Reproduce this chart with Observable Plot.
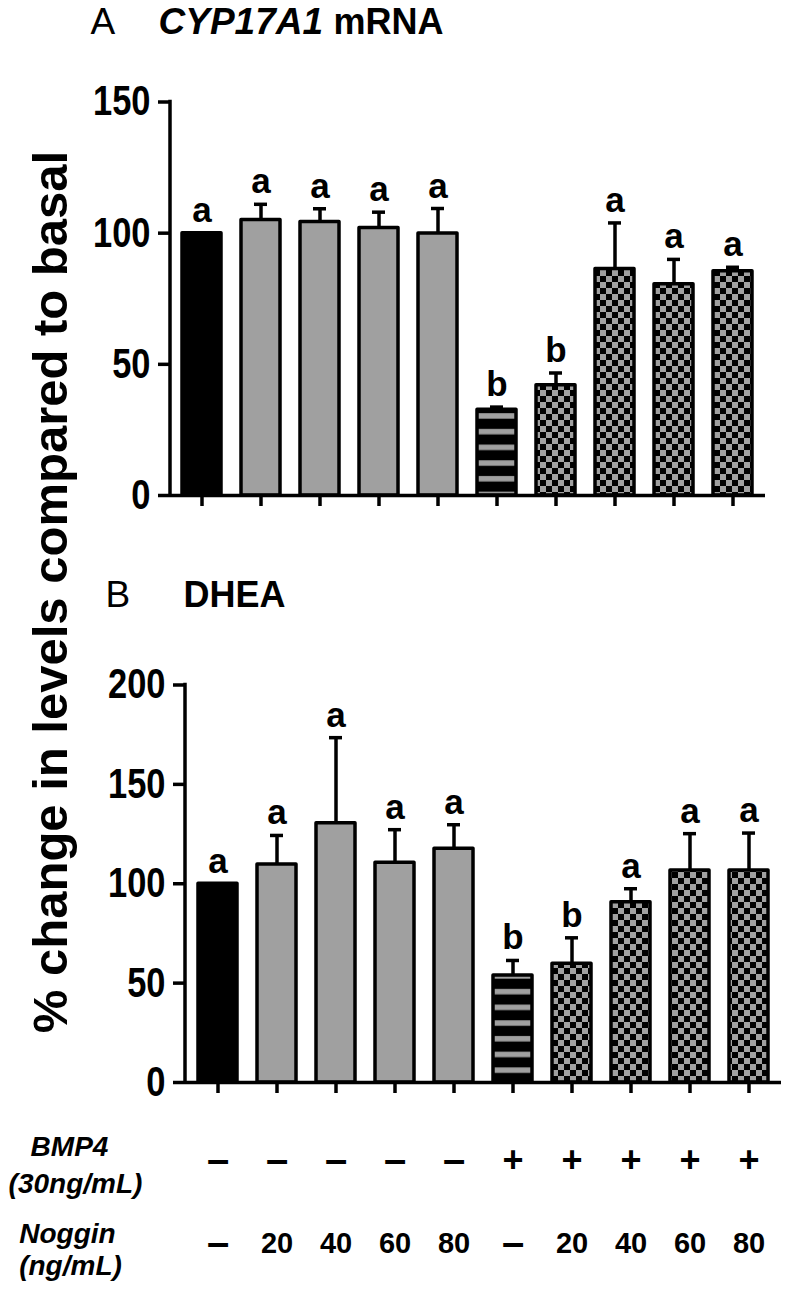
<!DOCTYPE html>
<html><head><meta charset="utf-8">
<script src="https://cdn.jsdelivr.net/npm/d3@7"></script>
<script src="https://cdn.jsdelivr.net/npm/@observablehq/plot@0.6"></script>
<style>
body{margin:0;background:#fff;}
#wrap{position:relative;width:788px;height:1291px;overflow:hidden;background:#fff;font-family:"Liberation Sans",Arial,sans-serif;}
.panel{position:absolute;left:0;}
#ytitle{position:absolute;left:50px;top:592px;transform:translate(-50%,-50%) rotate(-90deg);font-weight:bold;font-size:49px;line-height:49px;white-space:nowrap;color:#000;}
</style></head><body>
<div id="wrap">
  <div id="panelA" class="panel" style="top:0"></div>
  <div id="panelB" class="panel" style="top:560px"></div>
  <div id="ytitle">% change in levels compared to basal</div>
</div>
<script>
// ---- data ----
const groups = ["G1","G2","G3","G4","G5","G6","G7","G8","G9","G10"];
const kinds = ["control","noggin","noggin","noggin","noggin","bmp4","combo","combo","combo","combo"];
const bmp4Labels = ["–","–","–","–","–","+","+","+","+","+"];
const nogginLabels = ["–","20","40","60","80","–","20","40","60","80"];
const cypMean = [100, 105, 104.3, 102, 99.9, 32.7, 42, 86.3, 80.5, 85.5];
const cypSem = [0, 6, 5, 6, 9.5, 1, 4.7, 17.6, 9.5, 1.5];
const cypLetters = ["a","a","a","a","a","b","b","a","a","a"];
const dheaMean = [100, 109.7, 130.5, 110.6, 117.6, 53.8, 59.7, 90.7, 106.7, 106.7];
const dheaSem = [0, 14.6, 43, 16.6, 12.1, 7.6, 13.1, 6.8, 18.5, 18.8];
const dheaLetters = ["a","a","a","a","a","b","b","a","a","a"];
const yTicksA = [0, 50, 100, 150];
const yTicksB = [0, 50, 100, 150, 200];

const FONT = "Liberation Sans, Arial, sans-serif";
const GREY = "#a0a0a0";

function rows(mean, sem, letters) {
  return groups.map((g, i) => ({group: g, kind: kinds[i], mean: mean[i], sem: sem[i], letter: letters[i],
    bmp4: bmp4Labels[i], noggin: nogginLabels[i]}));
}

function addPatterns(svg, sfx) {
  const defs = d3.select(svg).insert("defs", ":first-child");
  const s = defs.append("pattern").attr("id", "stripes" + sfx).attr("patternUnits", "userSpaceOnUse")
    .attr("width", 10).attr("height", 15.7);
  s.append("rect").attr("width", 10).attr("height", 15.7).attr("fill", "#000");
  s.append("rect").attr("y", 5).attr("width", 10).attr("height", 5.5).attr("fill", GREY);
  const c = defs.append("pattern").attr("id", "check" + sfx).attr("patternUnits", "userSpaceOnUse")
    .attr("width", 12).attr("height", 12);
  c.append("rect").attr("width", 12).attr("height", 12).attr("fill", GREY);
  c.append("rect").attr("width", 6).attr("height", 6).attr("fill", "#000");
  c.append("rect").attr("x", 6).attr("y", 6).attr("width", 6).attr("height", 6).attr("fill", "#000");
}

function yAxisLine(ymax) {
  return (index, scales, values, dims) => {
    const g = d3.create("svg:g");
    g.append("line").attr("x1", dims.marginLeft).attr("x2", dims.marginLeft)
      .attr("y1", scales.y(0)).attr("y2", scales.y(ymax))
      .attr("stroke", "#000").attr("stroke-width", 3.5).attr("stroke-linecap", "square");
    return g.node();
  };
}

function panel(data, opts) {
  const {sfx, ymax, yTicks, height, marginTop, marginBottom, marginLeft, marginRight, extra} = opts;
  const svg = Plot.plot({
    width: 788, height, marginTop, marginBottom, marginLeft, marginRight,
    style: {fontFamily: FONT, background: "transparent", overflow: "visible"},
    x: {domain: groups, paddingInner: 0.336, paddingOuter: 0.172, label: null, axis: null},
    y: {domain: [0, ymax], label: null, axis: null},
    color: {type: "ordinal", domain: ["control","noggin","bmp4","combo"],
            range: ["#000", GREY, `url(#stripes${sfx})`, `url(#check${sfx})`]},
    marks: [
      Plot.ruleX(data.filter(d => d.sem > 0), {x: "group", y1: "mean", y2: d => d.mean + d.sem, stroke: "#000", strokeWidth: 3.5}),
      Plot.tickY(data.filter(d => d.sem > 0), {x: "group", y: d => d.mean + d.sem, stroke: "#000", strokeWidth: 3.5, insetLeft: 13, insetRight: 13}),
      Plot.barY(data, {x: "group", y: "mean", fill: "kind", stroke: "#000", strokeWidth: 3.5, strokeLinejoin: "round"}),
      Plot.text(data, {x: "group", y: d => d.mean + d.sem, text: "letter", dy: -11, lineAnchor: "bottom", fontSize: 35, fontWeight: "bold"}),
      Plot.ruleY([0], {stroke: "#000", strokeWidth: 3.5}),
      yAxisLine(ymax),
      Plot.axisY(yTicks, {tickSize: 12, tickPadding: 8, fontSize: 42, fontWeight: "bold", strokeWidth: 3.5, label: null}),
      Plot.axisX({tickSize: 11, tickPadding: 0, strokeWidth: 3.5, tickFormat: () => "", label: null}),
      ...extra
    ]
  });
  addPatterns(svg, sfx);
  return svg;
}

const dataA = rows(cypMean, cypSem, cypLetters);
const dataB = rows(dheaMean, dheaSem, dheaLetters);

// Panel A
const svgA = panel(dataA, {sfx: "A", ymax: 150, yTicks: yTicksA, height: 540, marginTop: 101.5, marginBottom: 45,
  marginLeft: 170, marginRight: 23,
  extra: [
    Plot.text(["A"], {frameAnchor: "top-left", dx: -80, dy: -68.5, lineAnchor: "bottom", textAnchor: "start", fontSize: 37}),
    Plot.text(["CYP17A1"], {frameAnchor: "top-left", dx: -12, dy: -68.5, lineAnchor: "bottom", textAnchor: "start", fontSize: 37, fontWeight: "bold", fontStyle: "italic"}),
    Plot.text(["mRNA"], {frameAnchor: "top-left", dx: 163, dy: -68.5, lineAnchor: "bottom", textAnchor: "start", fontSize: 36, fontWeight: "bold"})
  ]});
document.getElementById("panelA").appendChild(svgA);

// Panel B
const svgB = panel(dataB, {sfx: "B", ymax: 200, yTicks: yTicksB, height: 731, marginTop: 124.5, marginBottom: 209,
  marginLeft: 185, marginRight: 7,
  extra: [
    Plot.text(["B"], {frameAnchor: "top-left", dx: -80, dy: -78.5, lineAnchor: "bottom", textAnchor: "start", fontSize: 37}),
    Plot.text(["DHEA"], {frameAnchor: "top-left", dx: -2, dy: -78.5, lineAnchor: "bottom", textAnchor: "start", fontSize: 36, fontWeight: "bold"}),
    // treatment table
    Plot.text(dataB, {x: "group", text: "bmp4", frameAnchor: "bottom", dy: 78, lineAnchor: "middle",
      fontSize: d => d.bmp4 === "+" ? 36 : 40, fontWeight: "bold"}),
    Plot.text(dataB, {x: "group", text: "noggin", frameAnchor: "bottom", dy: 161, lineAnchor: "middle",
      fontSize: d => d.noggin === "–" ? 40 : 29, fontWeight: "bold"}),
    Plot.text(["BMP4"], {frameAnchor: "bottom-left", dx: -116, dy: 65, lineAnchor: "middle", textAnchor: "middle", fontSize: 28, fontWeight: "bold", fontStyle: "italic"}),
    Plot.text(["(30ng/mL)"], {frameAnchor: "bottom-left", dx: -110, dy: 102, lineAnchor: "middle", textAnchor: "middle", fontSize: 28, fontWeight: "bold", fontStyle: "italic"}),
    Plot.text(["Noggin"], {frameAnchor: "bottom-left", dx: -118, dy: 152, lineAnchor: "middle", textAnchor: "middle", fontSize: 28, fontWeight: "bold", fontStyle: "italic"}),
    Plot.text(["(ng/mL)"], {frameAnchor: "bottom-left", dx: -115, dy: 184, lineAnchor: "middle", textAnchor: "middle", fontSize: 28, fontWeight: "bold", fontStyle: "italic"})
  ]});
document.getElementById("panelB").appendChild(svgB);

// condense the y tick labels (the original uses a narrow bold face)
document.querySelectorAll('g[aria-label="y-axis tick label"] text').forEach(t => {
  const w = t.getComputedTextLength();
  t.setAttribute("textLength", (w * 0.82).toFixed(1));
  t.setAttribute("lengthAdjust", "spacingAndGlyphs");
});
</script>
</body></html>
